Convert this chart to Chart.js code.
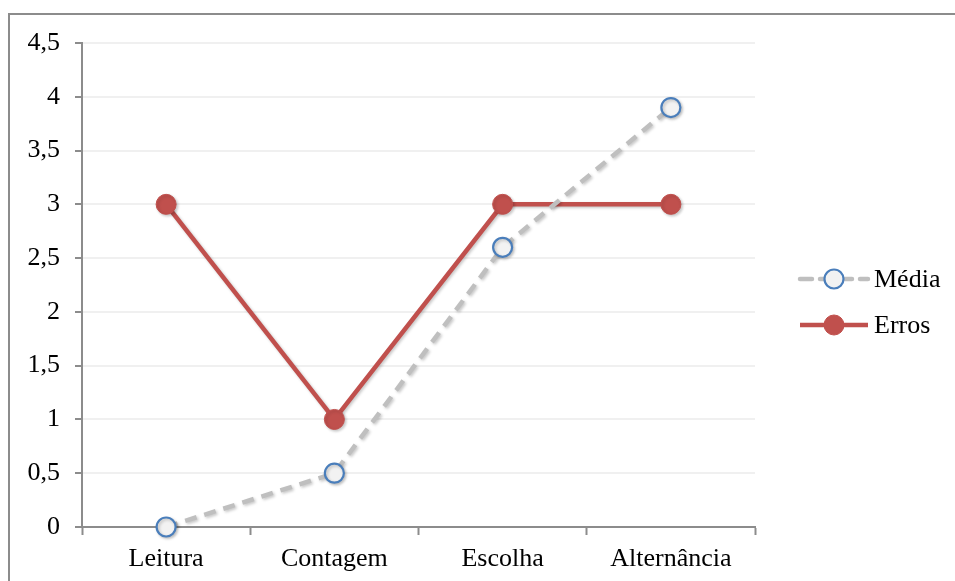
<!DOCTYPE html>
<html>
<head>
<meta charset="utf-8">
<script src="https://cdn.jsdelivr.net/npm/chart.js@4/dist/chart.umd.min.js"></script>
<style>
  html, body { margin: 0; padding: 0; background: #fff; }
  #wrap { position: relative; width: 955px; height: 581px; overflow: hidden; }
  #frame { position: absolute; left: 8px; top: 13px; width: 960px; height: 600px;
           border-top: 2px solid #8c8c8c; border-left: 2px solid #8c8c8c; box-sizing: border-box; }
  canvas { position: absolute; left: 0; top: 0; }
</style>
</head>
<body>
<div id="wrap">
  <div id="frame"></div>
  <canvas id="c" width="955" height="581"></canvas>
</div>
<script>
const categories = ['Leitura', 'Contagem', 'Escolha', 'Alternância'];
const mediaValues = [0, 0.5, 2.6, 3.9];
const errosValues = [3, 1, 3, 3];
const seriesNames = ['Média', 'Erros'];

const FONT = '"Liberation Serif", "Times New Roman", serif';
const FONT_SIZE = 26;

// Soft drop shadow under the series lines and markers
const seriesShadow = {
  id: 'seriesShadow',
  beforeDatasetDraw(chart) {
    const ctx = chart.ctx;
    ctx.save();
    ctx.shadowColor = 'rgba(0,0,0,0.22)';
    ctx.shadowBlur = 3;
    ctx.shadowOffsetX = 1.5;
    ctx.shadowOffsetY = 1.5;
  },
  afterDatasetDraw(chart) {
    chart.ctx.restore();
  }
};

// Legend on the right: a short line segment with the series marker, then the name
const sideLegend = {
  id: 'sideLegend',
  afterDraw(chart) {
    const ctx = chart.ctx;
    const x0 = 800, x1 = 868, rows = [279, 325];
    chart.data.datasets.forEach((ds, i) => {
      const y = rows[i];
      ctx.save();
      ctx.strokeStyle = ds.borderColor;
      ctx.lineWidth = ds.borderWidth;
      ctx.lineCap = ds.borderDash ? 'round' : 'butt';
      ctx.setLineDash(ds.borderDash || []);
      ctx.beginPath();
      ctx.moveTo(x0, y);
      ctx.lineTo(x1, y);
      ctx.stroke();
      ctx.setLineDash([]);
      ctx.beginPath();
      ctx.arc((x0 + x1) / 2, y, ds.pointRadius, 0, Math.PI * 2);
      ctx.fillStyle = ds.pointBackgroundColor;
      ctx.fill();
      ctx.lineWidth = ds.pointBorderWidth;
      ctx.strokeStyle = ds.pointBorderColor;
      ctx.stroke();
      ctx.fillStyle = '#000';
      ctx.font = FONT_SIZE + 'px ' + FONT;
      ctx.textBaseline = 'middle';
      ctx.textAlign = 'left';
      ctx.fillText(ds.label, x1 + 6, y + 1);
      ctx.restore();
    });
  }
};

new Chart(document.getElementById('c'), {
  type: 'line',
  data: {
    labels: categories,
    datasets: [
      {
        label: seriesNames[0],
        data: mediaValues,
        borderColor: '#bfbfbf',
        borderWidth: 4.5,
        borderDash: [12, 8],
        pointRadius: 9.5,
        pointBackgroundColor: '#f2f2f2',
        pointBorderColor: '#4a7ebb',
        pointBorderWidth: 2.2,
        tension: 0,
        clip: false
      },
      {
        label: seriesNames[1],
        data: errosValues,
        borderColor: '#c0504d',
        borderWidth: 4.5,
        pointRadius: 10,
        pointBackgroundColor: '#c0504d',
        pointBorderColor: '#c0504d',
        pointBorderWidth: 1,
        tension: 0,
        clip: false
      }
    ]
  },
  options: {
    responsive: false,
    animation: false,
    layout: { padding: { left: 0, right: 200, top: 43, bottom: 0 } },
    plugins: { legend: { display: false }, tooltip: { enabled: false } },
    scales: {
      x: {
        offset: true,
        grid: { offset: true, drawOnChartArea: false, tickLength: 8, tickColor: '#8c8c8c', tickWidth: 2 },
        border: { color: '#8c8c8c', width: 2 },
        ticks: { color: '#000', font: { family: FONT, size: FONT_SIZE }, padding: 9, maxRotation: 0 },
        afterFit(s) { s.height = 54; }
      },
      y: {
        min: 0,
        max: 4.5,
        grid: { color: '#f0f0f0', lineWidth: 2, tickLength: 7, tickColor: '#8c8c8c', tickWidth: 2 },
        border: { color: '#8c8c8c', width: 2 },
        ticks: {
          stepSize: 0.5,
          color: '#000',
          font: { family: FONT, size: FONT_SIZE },
          padding: 15,
          callback: v => String(v).replace('.', ',')
        },
        afterFit(s) { s.width = 82; }
      }
    }
  },
  plugins: [seriesShadow, sideLegend]
});
</script>
</body>
</html>
